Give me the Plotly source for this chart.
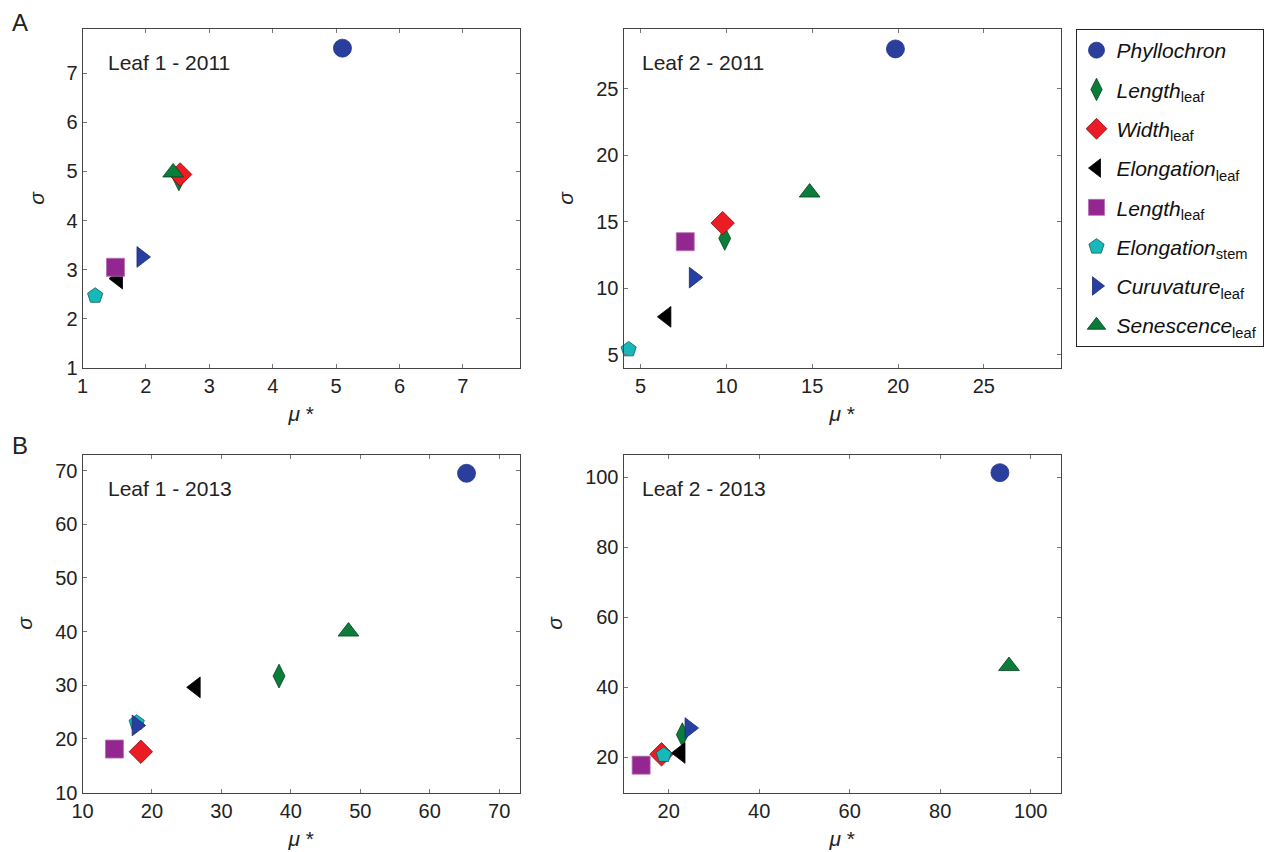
import plotly.graph_objects as go

W, H = 1273, 852

# ---- data ----
names = ["<i>Phyllochron</i>", "<i>Length</i><sub>leaf</sub>", "<i>Width</i><sub>leaf</sub>",
         "<i>Elongation</i><sub>leaf</sub>", "<i>Length</i><sub>leaf</sub>",
         "<i>Elongation</i><sub>stem</sub>", "<i>Curuvature</i><sub>leaf</sub>",
         "<i>Senescence</i><sub>leaf</sub>"]
symbols = ["circle", "diamond-tall", "diamond", "triangle-left", "square", "pentagon",
           "triangle-right", "triangle-up"]
colors = ["#2a3e9e", "#0b7d3b", "#ec1c24", "#000000", "#94278f", "#17b8b8", "#263fa0", "#0b7d3b"]
lines = ["#24358a", "#06401d", "#7a0a0e", "#000000", "#b070b0", "#0b5a5a", "#1d2a70", "#06401d"]
sizes = [18, 17, 18, 18, 18, 16, 18, 18]

panel_titles = ["Leaf 1 - 2011", "Leaf 2 - 2011", "Leaf 1 - 2013", "Leaf 2 - 2013"]

mu_l1_2011 = [5.10, 2.52, 2.54, 1.56, 1.52, 1.20, 1.93, 2.43]
sg_l1_2011 = [7.51, 4.85, 4.94, 2.82, 3.05, 2.47, 3.26, 4.98]

mu_l2_2011 = [19.85, 9.90, 9.78, 6.5, 7.6, 4.3, 8.1, 14.85]
sg_l2_2011 = [28.0, 13.75, 14.9, 7.85, 13.5, 5.4, 10.8, 17.2]

mu_l1_2013 = [65.3, 38.3, 18.4, 26.3, 14.6, 17.8, 17.8, 48.3]
sg_l1_2013 = [69.5, 31.7, 17.6, 29.6, 18.1, 23.0, 22.5, 40.0]

mu_l2_2013 = [93.2, 23.0, 18.4, 22.6, 13.9, 18.9, 24.6, 95.2]
sg_l2_2013 = [101.3, 26.5, 20.9, 21.3, 17.8, 20.7, 28.4, 46.1]

mus = [mu_l1_2011, mu_l2_2011, mu_l1_2013, mu_l2_2013]
sgs = [sg_l1_2011, sg_l2_2011, sg_l1_2013, sg_l2_2013]

x_ranges = [[1, 7.9], [4, 29.5], [10, 73], [10, 106.7]]
y_ranges = [[1, 7.9], [4, 29.5], [10, 73], [10, 106.5]]
x_ticks = [[1, 2, 3, 4, 5, 6, 7], [5, 10, 15, 20, 25], [10, 20, 30, 40, 50, 60, 70], [20, 40, 60, 80, 100]]
y_ticks = [[1, 2, 3, 4, 5, 6, 7], [5, 10, 15, 20, 25], [10, 20, 30, 40, 50, 60, 70], [20, 40, 60, 80, 100]]

# ---- layout geometry (pixels) ----
boxes = [(82.5, 520, 29, 368), (623.5, 1061, 29, 368),
         (82.5, 520, 454.5, 792.5), (623.5, 1061, 454.5, 792.5)]

FONT = "Liberation Sans, Arial, sans-serif"
fig = go.Figure()

for p in range(4):
    xa = "x" if p == 0 else f"x{p+1}"
    ya = "y" if p == 0 else f"y{p+1}"
    for i in range(len(names)):
        fig.add_trace(go.Scatter(
            x=[mus[p][i]], y=[sgs[p][i]], mode="markers", name=names[i],
            legendgroup=f"g{i}", showlegend=(p == 0),
            marker=dict(symbol=symbols[i], color=colors[i], size=sizes[i],
                        line=dict(color=lines[i], width=0.8)),
            xaxis=xa, yaxis=ya, cliponaxis=False))

layout = dict(width=W, height=H, margin=dict(l=0, r=0, t=0, b=0, autoexpand=False),
              paper_bgcolor="white", plot_bgcolor="white",
              font=dict(family=FONT, size=20, color="#222"),
              showlegend=True,
              legend=dict(x=1075.5 / W, y=1 - 29 / H, xanchor="left", yanchor="top",
                          bordercolor="#222", borderwidth=1, bgcolor="white",
                          font=dict(family=FONT, size=21, color="#111"),
                          tracegroupgap=9, itemsizing="trace"))

ann = []
for p, (x0, x1, y0, y1) in enumerate(boxes):
    k = "" if p == 0 else str(p + 1)
    axcommon = dict(showline=True, linecolor="#444", linewidth=1, mirror="ticks",
                    ticks="inside", ticklen=4, tickcolor="#777", showgrid=False,
                    zeroline=False, automargin=False,
                    tickfont=dict(family=FONT, size=20, color="#222"))
    layout["xaxis" + k] = dict(domain=[x0 / W, x1 / W], range=x_ranges[p],
                               tickvals=x_ticks[p], anchor="y" + k,
                               title=dict(text="<i>μ</i> *", standoff=10,
                                          font=dict(family=FONT, size=21)),
                               **axcommon)
    layout["yaxis" + k] = dict(domain=[1 - y1 / H, 1 - y0 / H], range=y_ranges[p],
                               tickvals=y_ticks[p], anchor="x" + k,
                               title=dict(text="<i>σ</i>", standoff=16,
                                          font=dict(family=FONT, size=21)),
                               **axcommon)
    ann.append(dict(text=panel_titles[p], xref="x" + k + " domain", yref="y" + k + " domain",
                    x=(106 - 82.5) / (x1 - x0) if p % 2 == 0 else (640 - 623.5) / (x1 - x0),
                    y=1 - (63 - 29) / (y1 - y0), xanchor="left", yanchor="middle",
                    showarrow=False, font=dict(family=FONT, size=21, color="#222")))

ann.append(dict(text="A", xref="paper", yref="paper", x=10 / W, y=1 - 22 / H,
                xanchor="left", yanchor="middle", showarrow=False,
                font=dict(family=FONT, size=24, color="#222")))
ann.append(dict(text="B", xref="paper", yref="paper", x=10 / W, y=1 - 445 / H,
                xanchor="left", yanchor="middle", showarrow=False,
                font=dict(family=FONT, size=24, color="#222")))
layout["annotations"] = ann

fig.update_layout(**layout)
fig.write_html("out.html", config={"displayModeBar": False},
               post_script="document.body.style.margin='0px';document.body.style.overflow='hidden';")
